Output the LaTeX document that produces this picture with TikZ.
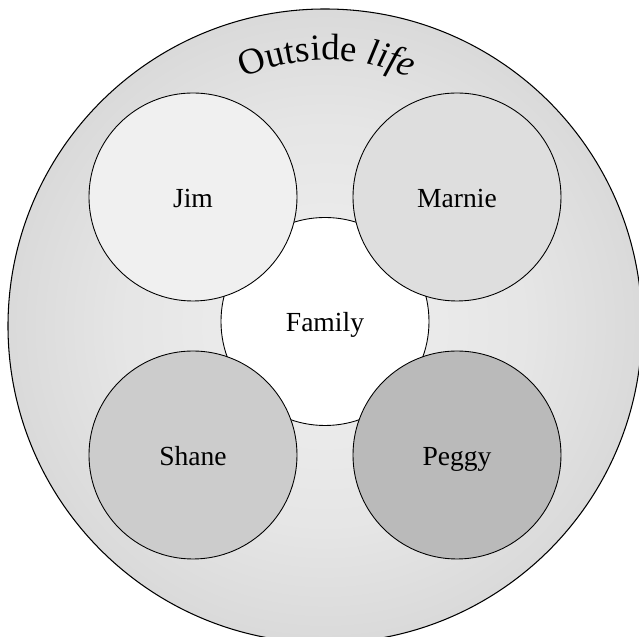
\documentclass[tikz,border=0pt]{standalone}
\usepackage{fontspec}
\setmainfont{Liberation Serif}
\usetikzlibrary{decorations.text}

% Verlauf fuer den grossen Kreis
\pgfdeclareradialshading{outerlife}{\pgfpoint{0bp}{0bp}}{color(0bp)=(black!6); color(16bp)=(black!10); color(49bp)=(black!27); color(50bp)=(black!27)}

\tikzset{
  person/.style={circle, draw, line width=0.5pt, minimum size=4.16cm, inner sep=0pt,
    text height=11.4pt, text depth=0pt, font=\fontsize{15.7}{18}\selectfont},
}

\begin{document}
\begin{tikzpicture}
  \useasboundingbox (-6.5,-6.22) rectangle (6.28,6.52);
  \clip (-6.5,-6.22) rectangle (6.28,6.52);
  % grosser Kreis
  \shadedraw[shading=outerlife, line width=0.6pt] (0,0) circle (6.34);
  % Schrift oben im Bogen
  \path[decorate, decoration={text along path, text align=center,
    text={|\fontsize{21}{24}\selectfont|Outside |\fontsize{21}{24}\selectfont\itshape|life}}]
    (0.04,1.32) ++(150:4.0) arc (150:30:4.0);
  % Mitte
  \node[person, fill=white] (family) at (0,0.09) {Family};
  % die vier Personen
  \node[person, fill=black!6] (jim) at (-2.64,2.58) {Jim};
  \node[person, fill=black!13] (marnie) at (2.64,2.58) {Marnie};
  \node[person, fill=black!20] (shane) at (-2.64,-2.58) {Shane};
  \node[person, fill=black!27] (peggy) at (2.64,-2.58) {Peggy};
\end{tikzpicture}
\end{document}
